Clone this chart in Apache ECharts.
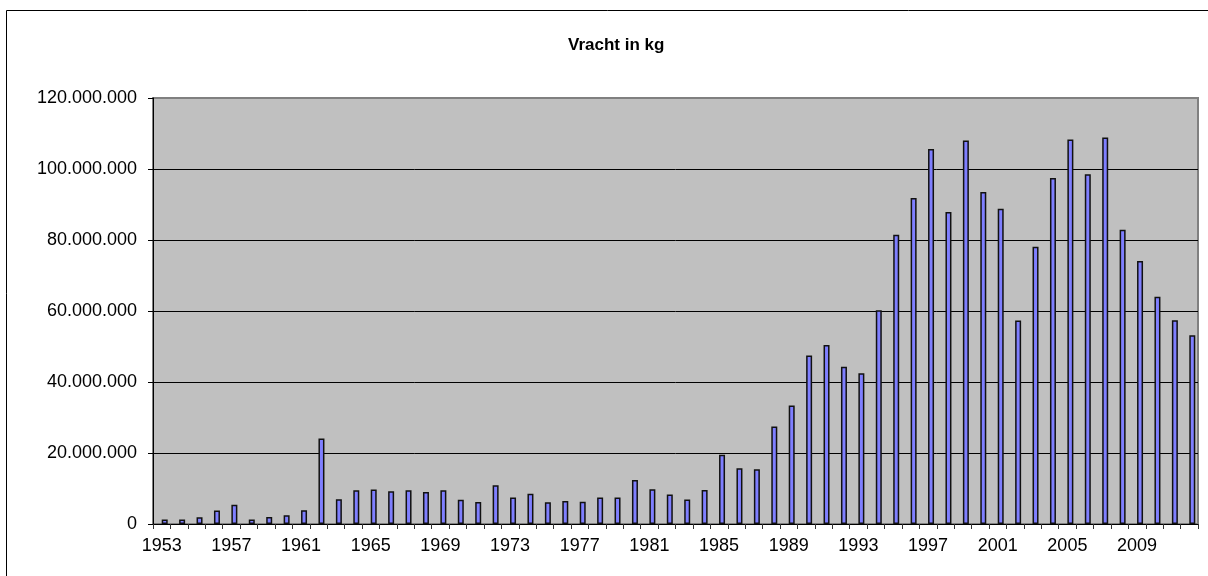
<!DOCTYPE html>
<html>
<head>
<meta charset="utf-8">
<title>Vracht in kg</title>
<script src="https://cdn.jsdelivr.net/npm/echarts@6/dist/echarts.min.js"></script>
<style>
  html, body { margin: 0; padding: 0; background: #fff; }
  #vracht { width: 1208px; height: 576px; }
</style>
</head>
<body>
<div id="vracht"></div>
<script>
  // jaren
  var years = ['1953','1954','1955','1956','1957','1958','1959','1960','1961','1962',
    '1963','1964','1965','1966','1967','1968','1969','1970','1971','1972',
    '1973','1974','1975','1976','1977','1978','1979','1980','1981','1982',
    '1983','1984','1985','1986','1987','1988','1989','1990','1991','1992',
    '1993','1994','1995','1996','1997','1998','1999','2000','2001','2002',
    '2003','2004','2005','2006','2007','2008','2009','2010','2011','2012']
  // vracht in kg per jaar
  var vracht = [1300000, 1300000, 1900000, 3800000, 5400000, 1300000, 2000000, 2500000, 3900000, 24100000,
    7000000, 9500000, 9700000, 9200000, 9500000, 9000000, 9500000, 6800000, 6200000, 10900000,
    7500000, 8500000, 6100000, 6500000, 6300000, 7500000, 7500000, 12400000, 9800000, 8300000,
    6900000, 9600000, 19500000, 15700000, 15400000, 27500000, 33400000, 47500000, 50400000, 44300000,
    42500000, 60200000, 81500000, 91800000, 105600000, 87900000, 108000000, 93500000, 88800000, 57300000,
    78100000, 97500000, 108300000, 98500000, 108900000, 82900000, 74100000, 64000000, 57400000, 53200000]
  // lege reeks (Excel zet de balk rechts van het midden)
  var leeg = []
  var yMax = 120000000
  var yStep = 20000000

  function puntjes(v) {
    return String(v).replace(/\B(?=(\d{3})+(?!\d))/g, '.')
  }

  var myChart = echarts.init(document.getElementById('vracht'))
  myChart.setOption({
    animation: false,
    textStyle: { fontFamily: 'Liberation Sans, Arial, sans-serif' },
    title: {
      text: 'Vracht in kg',
      left: 563,
      top: 32,
      textStyle: { fontSize: 17, fontWeight: 'bold', color: '#000' }
    },
    graphic: [
      {
        type: 'rect',
        silent: true,
        shape: { x: 6.5, y: 10.5, width: 1400, height: 800 },
        style: { fill: 'none', stroke: '#000', lineWidth: 1 }
      }
    ],
    grid: {
      left: 153,
      right: 10,
      top: 98,
      bottom: 52,
      show: true,
      backgroundColor: '#c0c0c0',
      borderColor: '#808080',
      borderWidth: 2
    },
    xAxis: {
      type: 'category',
      data: years,
      boundaryGap: true,
      axisLine: { lineStyle: { color: '#000', width: 1 } },
      axisTick: { show: true, interval: 0, length: 5, lineStyle: { color: '#333' } },
      axisLabel: { interval: 3, color: '#000', fontSize: 18, margin: 13 }
    },
    yAxis: {
      type: 'value',
      min: 0,
      max: yMax,
      interval: yStep,
      axisLine: { show: true, lineStyle: { color: '#000', width: 1 } },
      axisTick: { show: true, length: 5, lineStyle: { color: '#000' } },
      axisLabel: { color: '#000', fontSize: 18, margin: 16, formatter: puntjes },
      splitLine: { showMaxLine: false, lineStyle: { color: '#000', width: 1 } }
    },
    series: [
      {
        name: 'leeg',
        type: 'bar',
        data: leeg,
        barWidth: 6,
        barGap: '0%'
      },
      {
        name: 'Vracht in kg',
        type: 'bar',
        data: vracht,
        barWidth: 6,
        barGap: '0%',
        itemStyle: { color: '#7f7fff', borderColor: '#111', borderWidth: 1.5 }
      }
    ]
  })
</script>
</body>
</html>
